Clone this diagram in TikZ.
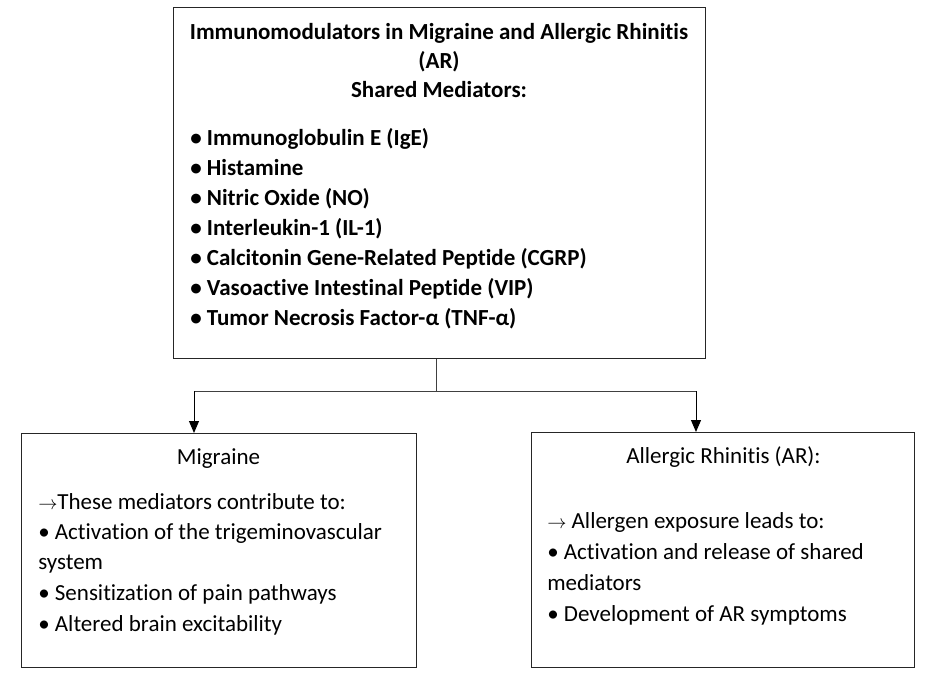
\documentclass[tikz,border=0pt]{standalone}
\usepackage{fontspec}
\setmainfont[Ligatures=NoCommon]{Carlito}
\usetikzlibrary{positioning,calc,arrows.meta}
\newcommand{\medto}{{\fontsize{13.5}{15}\selectfont$\rightarrow$}}

\begin{document}
\begin{tikzpicture}[x=0.75pt, y=-0.75pt,
    med box/.style={rectangle, draw=black!85, line width=0.75pt, inner sep=0pt, outer sep=0pt},
    med text/.style={inner sep=0pt, font=\fontsize{17.25}{20}\selectfont},
    med bold/.style={med text, font=\fontsize{17.25}{20}\selectfont\bfseries},
    med item/.style={med bold, anchor=base west},
    med line/.style={draw=black!75, line width=0.75pt},
    med arrow/.style={-{Triangle[length=9pt, width=7.5pt]}, draw=black, line width=0.75pt}]

    \useasboundingbox (0,0) rectangle (931,673);

    % boxes
    \node [med box, minimum width=399pt, minimum height=263.25pt] (top) at (439,183.5) {};
    \node [med box, minimum width=296.25pt, minimum height=175.5pt] (mig) at (218.5,550) {};
    \node [med box, minimum width=287.25pt, minimum height=176.25pt] (ar) at (722.5,549.5) {};

    % title of the shared box
    \node [med bold, anchor=base] (title1) at (439,39.3) {Immunomodulators in Migraine and Allergic Rhinitis};
    \node [med bold, anchor=base] (title2) at (439,68.5) {(AR)};
    \node [med bold, anchor=base] (title3) at (439,98) {Shared Mediators:};

    \foreach \t [count=\i] in {Immunoglobulin E (IgE), Histamine, Nitric Oxide (NO), Interleukin-1 (IL-1),
        Calcitonin Gene-Related Peptide (CGRP), Vasoactive Intestinal Peptide (VIP), Tumor Necrosis Factor-α (TNF-α)}
        \node [med item] (item\i) at (190,115.7+30*\i) {• \t};

    % migraine box
    \node [med text, anchor=base] (migT) at (218.5,464) {Migraine};
    \node [med text, anchor=base west] (mig1) at (38,509) {\medto These mediators contribute to:};
    \node [med text, anchor=base west] (mig2) at (38,539) {• Activation of the trigeminovascular};
    \node [med text, anchor=base west] (mig3) at (38,569.5) {system};
    \node [med text, anchor=base west] (mig4) at (38,600.5) {• Sensitization of pain pathways};
    \node [med text, anchor=base west] (mig5) at (38,631) {• Altered brain excitability};

    % allergic rhinitis box
    \node [med text, anchor=base] (arT) at (723.5,463) {Allergic Rhinitis (AR):};
    \node [med text, anchor=base west] (ar1) at (547,528) {\medto{} Allergen exposure leads to:};
    \node [med text, anchor=base west] (ar2) at (547,559) {• Activation and release of shared};
    \node [med text, anchor=base west] (ar3) at (547,590) {mediators};
    \node [med text, anchor=base west] (ar4) at (547,621) {• Development of AR symptoms};

    % connectors
    \coordinate (hub) at (436,391);
    \coordinate (lbend) at (194,391);
    \coordinate (rbend) at (696,391);
    \draw [med line] (top.south -| hub) -- (hub);
    \draw [med line] (lbend) -- (rbend);
    \draw [med arrow] (lbend) -- (lbend |- mig.north);
    \draw [med arrow] (rbend) -- (rbend |- ar.north);

\end{tikzpicture}
\end{document}
